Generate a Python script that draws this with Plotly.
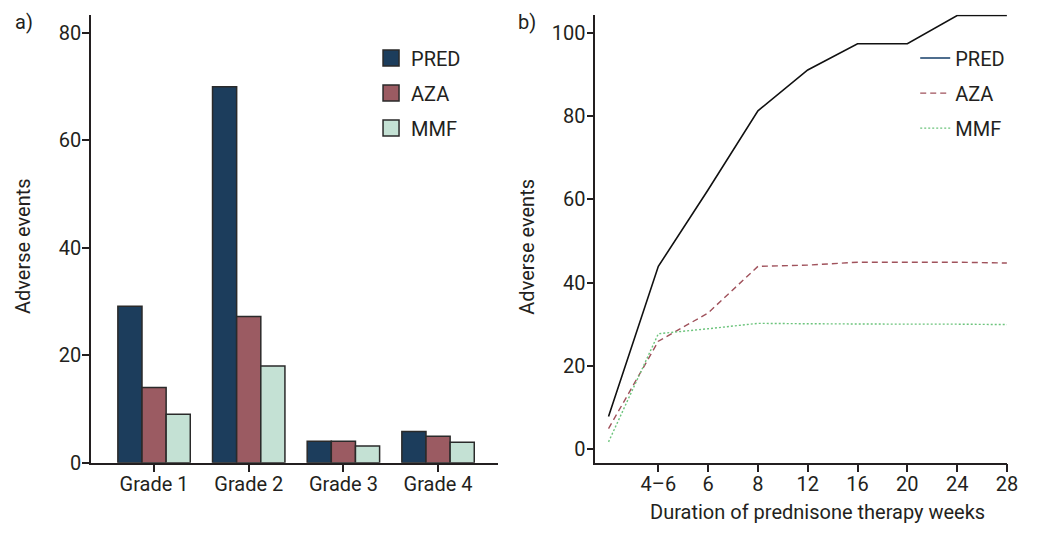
import plotly.graph_objects as go

# ---------------- data ----------------
grades = ["Grade 1", "Grade 2", "Grade 3", "Grade 4"]
pred_grade = [29.1, 70.0, 4.0, 5.8]
aza_grade = [14.0, 27.2, 4.0, 4.9]
mmf_grade = [9.0, 18.0, 3.1, 3.8]

weeks = [" ", "4–6", "6", "8", "12", "16", "20", "24", "28"]
week_ticks = ["4–6", "6", "8", "12", "16", "20", "24", "28"]
pred_weeks = [7.8, 43.9, 62.3, 81.3, 91.1, 97.4, 97.4, 104.2, 104.2]
aza_weeks = [4.9, 25.9, 32.7, 43.9, 44.2, 44.9, 44.9, 44.9, 44.7]
mmf_weeks = [1.7, 27.7, 28.9, 30.2, 30.1, 30.0, 30.0, 30.0, 29.9]

series_names = ["PRED", "AZA", "MMF"]
bar_colors = ["#1c3d5c", "#9b5b62", "#c4e1d4"]
line_colors = ["#111111", "#a0525c", "#6cc47c"]
legend_line_colors = ["#4f6e8e", "#a0525c", "#6cc47c"]
line_dashes = ["solid", "6px,4px", "2px,2px"]

W, H = 1040, 534
FONT = "Roboto"
TXT = "#231f20"

def px_x(p):
    return p / W

def px_y(p):
    return 1 - p / H

fig = go.Figure()

# ---- panel a: grouped bars ----
for name, vals, col in zip(series_names, [pred_grade, aza_grade, mmf_grade], bar_colors):
    fig.add_trace(go.Bar(
        x=grades, y=vals, name=name, showlegend=False,
        marker=dict(color=col, line=dict(color="#2a2a2a", width=1.5)),
        xaxis="x", yaxis="y",
    ))
for name, col in zip(series_names, bar_colors):
    fig.add_trace(go.Scatter(
        x=[None], y=[None], mode="markers", name=name, legend="legend",
        legendgroup="a" + name,
        marker=dict(symbol="square", size=16, color=col,
                    line=dict(color="#2a2a2a", width=1.5)),
        xaxis="x", yaxis="y",
    ))

# ---- panel b: lines ----
for name, vals, col, dash in zip(series_names, [pred_weeks, aza_weeks, mmf_weeks], line_colors, line_dashes):
    fig.add_trace(go.Scatter(
        x=weeks, y=vals, mode="lines", name=name, showlegend=False,
        line=dict(color=col, width=1.6 if name == "PRED" else 1.4, dash=dash),
        xaxis="x2", yaxis="y2",
    ))
for name, col, dash in zip(series_names, legend_line_colors, line_dashes):
    fig.add_trace(go.Scatter(
        x=[None], y=[None], mode="lines", name=name, legend="legend2",
        legendgroup="b" + name,
        line=dict(color=col, width=2 if name == "PRED" else 1.4, dash=dash),
        xaxis="x2", yaxis="y2",
    ))

axis_common = dict(
    showline=True, linecolor=TXT, linewidth=1.5, showgrid=False, zeroline=False,
    ticks="outside", tickcolor=TXT, tickwidth=1.5,
    tickfont=dict(family=FONT, size=20, color=TXT),
)

ydom = [px_y(473.3), px_y(15)]

fig.update_layout(
    width=W, height=H,
    margin=dict(l=0, r=0, t=0, b=0),
    paper_bgcolor="white", plot_bgcolor="white",
    font=dict(family=FONT, size=20, color=TXT),
    barmode="group", bargap=0.235, bargroupgap=0,
    xaxis=dict(axis_common, domain=[px_x(92), px_x(503.3)], type="category",
               categoryorder="array", categoryarray=grades,
               range=[-0.666, 3.633], ticklen=8, ticklabelstandoff=-5, anchor="y"),
    yaxis=dict(axis_common, domain=ydom, range=[0, 83.4],
               tickvals=[0, 20, 40, 60, 80], ticklen=7, ticklabelstandoff=-3, anchor="x"),
    xaxis2=dict(axis_common, domain=[px_x(601.7), px_x(1017.7)], type="category",
                categoryorder="array", categoryarray=weeks,
                tickvals=week_ticks, range=[-0.265, 8], ticklen=8,
                ticklabelstandoff=-5, anchor="y2"),
    yaxis2=dict(axis_common, domain=ydom, range=[-3.29, 104.4],
                tickvals=[0, 20, 40, 60, 80, 100], ticklen=7,
                ticklabelstandoff=-3, anchor="x2"),
    legend=dict(x=px_x(375), y=px_y(39.5), xanchor="left", yanchor="top",
                bgcolor="rgba(0,0,0,0)", tracegroupgap=6,
                font=dict(family=FONT, size=20, color=TXT)),
    legend2=dict(x=px_x(925), y=px_y(39.5), xanchor="left", yanchor="top",
                 bgcolor="rgba(0,0,0,0)", tracegroupgap=6,
                 font=dict(family=FONT, size=20, color=TXT)),
    annotations=[
        dict(text="a)", x=px_x(24), y=px_y(22), xref="paper", yref="paper",
             showarrow=False, xanchor="center", yanchor="middle"),
        dict(text="b)", x=px_x(533), y=px_y(22), xref="paper", yref="paper",
             showarrow=False, xanchor="center", yanchor="middle"),
        dict(text="Adverse events", x=px_x(24), y=px_y(252), xref="paper", yref="paper",
             showarrow=False, textangle=-90, xanchor="center", yanchor="middle"),
        dict(text="Adverse events", x=px_x(533), y=px_y(252), xref="paper", yref="paper",
             showarrow=False, textangle=-90, xanchor="center", yanchor="middle"),
        dict(text="Duration of prednisone therapy weeks", x=px_x(826.7), y=px_y(524),
             xref="paper", yref="paper", showarrow=False,
             xanchor="center", yanchor="middle"),
    ],
)

post = (
    "document.documentElement.style.margin='0';"
    "document.body.style.margin='0';"
    "document.body.style.overflow='hidden';"
)

fig.write_html("out.html", config={"displayModeBar": False}, post_script=post)
